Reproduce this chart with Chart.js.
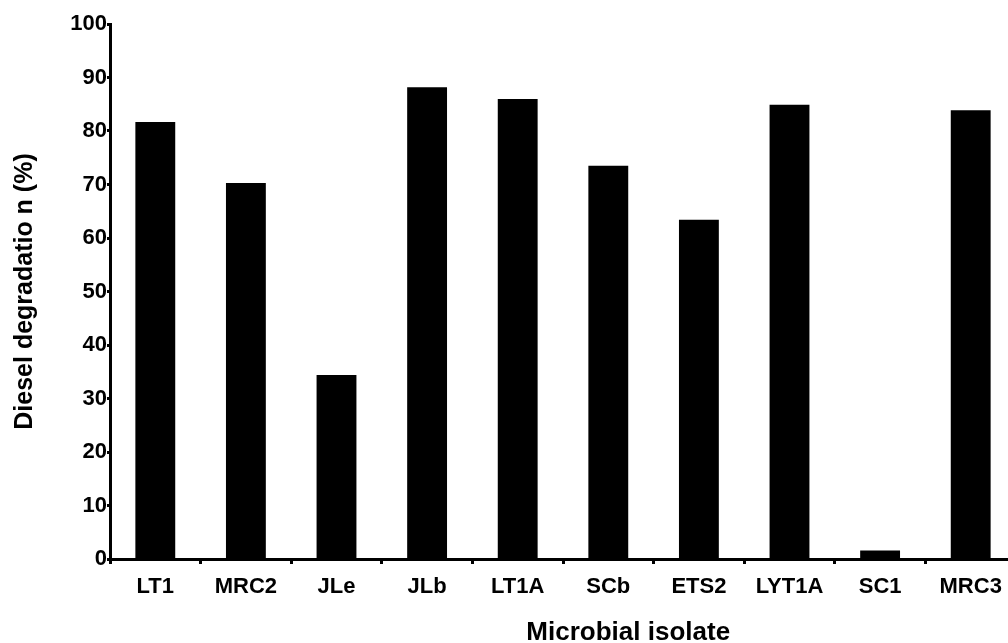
<!DOCTYPE html>
<html>
<head>
<meta charset="utf-8">
<script src="https://cdn.jsdelivr.net/npm/chart.js@4/dist/chart.umd.min.js"></script>
<style>
html,body{margin:0;padding:0;background:#fff;overflow:hidden;width:1008px;height:643px;}
#wrap{position:relative;width:1020px;height:643px;}
</style>
</head>
<body>
<div id="wrap"><canvas id="c" width="1020" height="643"></canvas></div>
<script>
const categories = ["LT1","MRC2","JLe","JLb","LT1A","SCb","ETS2","LYT1A","SC1","MRC3"];
const degradation = [81.7, 70.3, 34.4, 88.2, 86.0, 73.5, 63.4, 84.9, 1.6, 83.9];
const yTicks = [0,10,20,30,40,50,60,70,80,90,100];
const yTitle = "Diesel degradatio n (%)";
const xTitle = "Microbial isolate";

const sans = "'Liberation Sans',Arial,sans-serif";

const xTitlePlugin = {
  id: 'xTitlePlugin',
  afterDraw(chart) {
    const ctx = chart.ctx, a = chart.chartArea;
    ctx.save();
    ctx.font = "bold 26px " + sans;
    ctx.fillStyle = "#000";
    ctx.textAlign = "center";
    ctx.textBaseline = "middle";
    ctx.fillText(xTitle, a.left + (a.right - a.left) * 0.572, 633);
    ctx.restore();
  }
};

new Chart(document.getElementById('c'), {
  type: 'bar',
  data: {
    labels: categories,
    datasets: [{
      data: degradation,
      backgroundColor: '#000',
      borderWidth: 0,
      categoryPercentage: 1.0,
      barPercentage: 0.44
    }]
  },
  options: {
    responsive: false,
    animation: false,
    events: [],
    layout: { padding: { top: 24, right: 4, left: 0, bottom: 0 } },
    plugins: { legend: { display: false }, tooltip: { enabled: false }, title: { display: false } },
    scales: {
      x: {
        offset: true,
        border: { display: true, color: '#000', width: 3 },
        grid: { display: true, drawOnChartArea: false, drawTicks: true, offset: true, tickLength: 5, tickWidth: 3, tickColor: '#000' },
        ticks: { color: '#000', font: { family: sans, size: 22, weight: 'bold' }, padding: 10, maxRotation: 0, autoSkip: false },
        afterFit(scale) { scale.height = 84; }
      },
      y: {
        min: 0, max: 100,
        afterBuildTicks(scale) { scale.ticks = yTicks.map(v => ({ value: v })); },
        border: { display: true, color: '#000', width: 3 },
        grid: { display: true, drawOnChartArea: false, drawTicks: true, tickLength: 3, tickWidth: 3, tickColor: '#000' },
        ticks: { color: '#000', font: { family: sans, size: 22, weight: 'bold' }, padding: 0 },
        title: { display: true, text: yTitle, color: '#000', font: { family: sans, size: 25, weight: 'bold' }, padding: { top: 10, bottom: 0 } },
        afterFit(scale) { scale.width = 110; }
      }
    }
  },
  plugins: [xTitlePlugin]
});
</script>
</body>
</html>
